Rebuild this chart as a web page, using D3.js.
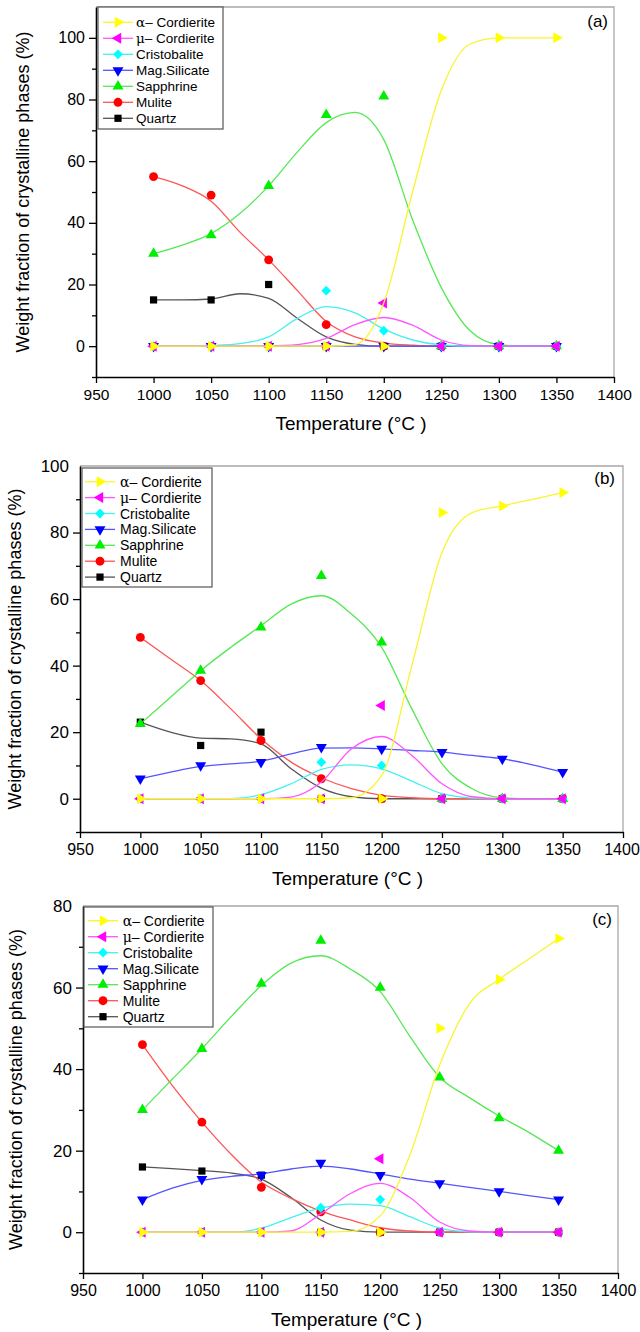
<!DOCTYPE html>
<html>
<head>
<meta charset="utf-8">
<script src="https://cdn.jsdelivr.net/npm/d3@7"></script>
<style>
body { margin: 0; background: #fff; }
svg text { font-family: Arial, "Liberation Sans", sans-serif; fill: #000; }
</style>
</head>
<body>
<div id="chart"></div>
<script>
// measured temperatures and the temperatures the fitted curves were read at
var temps = [1000, 1050, 1100, 1150, 1200, 1250, 1300, 1350];
var fitTemps = [1000, 1025, 1050, 1075, 1100, 1125, 1150, 1175, 1200, 1225, 1250, 1275, 1300, 1325, 1350];
var seriesNames = ["Cordierite", "Cordierite", "Cristobalite", "Mag.Silicate", "Sapphrine", "Mulite", "Quartz"];
var greek = ["\u03b1", "\u03bc", "", "", "", "", ""];
var xTicks = [950, 1000, 1050, 1100, 1150, 1200, 1250, 1300, 1350, 1400];

// order: alpha, mu, cristobalite, mag.silicate, sapphrine, mulite, quartz
var pointsA = [
	[0, 0, 0, 0, 0, 100, 100, 100],
	[0, 0, 0, 0, 14, 0, 0, 0],
	[0, 0, 0, 18, 5, 0, 0, 0],
	[0, 0, 0, 0, 0, 0, 0, 0],
	[30, 36, 52, 75, 81, 0, 0, 0],
	[55, 49, 28, 7, 0, 0, 0, 0],
	[15, 15, 20, 0, 0, 0, 0, 0]
];
var fitsA = [
	[0, 0, 0, 0, 0, 0, 0, 0.5, 14, 50, 83, 98, 100, 100, 100],
	[0, 0, 0, 0, 0.1, 0.5, 2.5, 7, 9.3, 6.8, 2, 0.2, 0, 0, 0],
	[0, 0, 0.2, 0.8, 3, 9, 12.8, 10.8, 5.5, 2, 0.4, 0, 0, 0, 0],
	[0, 0, 0, 0, 0, 0, 0, 0, 0, 0, 0, 0, 0, 0, 0],
	[30, 32.8, 36.5, 43, 52, 63, 72.5, 75.8, 67, 41, 19, 5, 0.5, 0, 0],
	[55, 52, 47, 37, 28, 18, 8, 3, 1, 0.3, 0, 0, 0, 0, 0],
	[15, 15, 15.3, 17, 15.5, 9, 3, 0.6, 0, 0, 0, 0, 0, 0, 0]
];

var pointsB = [
	[0, 0, 0, 0, 0, 86, 88, 92],
	[0, 0, 0, 0, 28, 0, 0, 0],
	[0, 0, 0, 11, 10, 0, 0, 0],
	[6, 10, 11, 15.5, 15, 14, 12, 8],
	[22.5, 38.5, 51.5, 67, 47, 0, 0, 0],
	[48.5, 35.5, 17.5, 6, 0, 0, 0, 0],
	[23, 16, 20, 0, 0, 0, 0, 0]
];
var fitsB = [
	[0, 0, 0, 0, 0, 0, 0, 0.3, 7, 40, 74, 86, 88, 90, 92],
	[0, 0, 0, 0, 0, 0.5, 5, 15, 18.7, 13, 4.5, 0.6, 0, 0, 0],
	[0, 0, 0, 0, 1.2, 4.5, 8.8, 10.2, 9, 5.3, 1.5, 0.2, 0, 0, 0],
	[6, 8, 9.7, 10.5, 11.3, 13.5, 15.2, 15.3, 15, 14.5, 14, 13, 12, 10.2, 8],
	[22.5, 30.5, 38.5, 45.5, 52, 58.5, 61, 55.5, 45.5, 27, 10.5, 3, 0.3, 0, 0],
	[48.5, 42, 35.5, 27, 18, 11, 6.3, 3, 1, 0.3, 0, 0, 0, 0, 0],
	[23, 20, 18.2, 18, 16.5, 9, 3.2, 0.6, 0, 0, 0, 0, 0, 0, 0]
];

var pointsC = [
	[0, 0, 0, 0, 0, 50, 62, 72],
	[0, 0, 0, 0, 18, 0, 0, 0],
	[0, 0, 0, 6, 8, 0, 0, 0],
	[8, 13, 14, 17, 14, 12, 10, 8],
	[30, 45, 61, 71.5, 60, 38, 28, 20],
	[46, 27, 11, 5, 0, 0, 0, 0],
	[16, 15, 14, 0, 0, 0, 0, 0]
];
var fitsC = [
	[0, 0, 0, 0, 0, 0, 0, 0.2, 4, 19, 41, 56, 62, 67, 72],
	[0, 0, 0, 0, 0, 0.3, 4.5, 9.5, 12, 8.5, 2.5, 0.3, 0, 0, 0],
	[0, 0, 0, 0, 1, 3.6, 5.9, 6.9, 6.5, 3.8, 1, 0.1, 0, 0, 0],
	[8, 10.8, 12.7, 13.7, 14.3, 15.5, 16.2, 15.5, 14.3, 13, 12, 11, 10, 9, 8],
	[30, 37.5, 45, 53, 60.5, 66, 67.8, 64.5, 59, 48, 38, 33, 28.5, 24.5, 20],
	[46, 36, 27, 19, 12.3, 8.3, 5.2, 3, 1.1, 0.3, 0, 0, 0, 0, 0],
	[16, 15.6, 15.1, 14.5, 13, 8.5, 3, 0.5, 0, 0, 0, 0, 0, 0, 0]
];

var colors = ['#ffff00', '#ff00ff', '#00ffff', '#0000ff', '#00ee00', '#ff0000', '#000000'];
var lineColors = ['#f8f530', '#ff55ff', '#44f0f0', '#5555ff', '#55e855', '#ff5555', '#555555'];

var width = 640;
var height = 1332;

var svg = d3.select("#chart")
	.append("svg")
	.attr("width", width)
	.attr("height", height);

var symTri = d3.symbol().type(d3.symbolTriangle).size(52);
var symCircle = d3.symbol().type(d3.symbolCircle).size(62);
var symSquare = d3.symbol().type(d3.symbolSquare).size(52);
var symDiamond = d3.symbol().type(d3.symbolSquare).size(48);

// path + rotation for each series marker
var markers = [
	{ p: symTri(), r: 90 },
	{ p: symTri(), r: -90 },
	{ p: symDiamond(), r: 45 },
	{ p: symTri(), r: 180 },
	{ p: symTri(), r: 0 },
	{ p: symCircle(), r: 0 },
	{ p: symSquare(), r: 0 }
];

var panels = [
	{ label: '(a)', pts: pointsA, fits: fitsA, yDom: [-10, 110], yTicks: [0, 20, 40, 60, 80, 100],
		x0: 96, x1: 614, top: 7, bottom: 377, titleX: 23, tick: 16, xtick: 15.5, lab: [608, 27],
		leg: { x: 98, y: 7, w: 125, h: 122, row0: 22.3, dy: 16, mx: 118, tx: 136, fs: 13.5 } },
	{ label: '(b)', pts: pointsB, fits: fitsB, yDom: [-10, 100], yTicks: [0, 20, 40, 60, 80, 100],
		x0: 80, x1: 623, top: 466, bottom: 832, titleX: 15, tick: 17, xtick: 16, lab: [615, 484],
		leg: { x: 82, y: 468, w: 130, h: 119, row0: 481.7, dy: 15.9, mx: 100, tx: 120, fs: 14 } },
	{ label: '(c)', pts: pointsC, fits: fitsC, yDom: [-10, 80], yTicks: [0, 20, 40, 60, 80],
		x0: 83, x1: 618, top: 906, bottom: 1273, titleX: 16, tick: 17, xtick: 16, lab: [612, 925],
		leg: { x: 84, y: 907, w: 129, h: 120, row0: 920.7, dy: 16, mx: 103, tx: 122.7, fs: 14 } }
];

panels.forEach(function(pn) {
	drawPanel(pn);
});

function drawPanel(pn) {
	var x = d3.scaleLinear().domain([950, 1400]).range([pn.x0, pn.x1]);
	var y = d3.scaleLinear().domain(pn.yDom).range([pn.bottom, pn.top]);

	var g = svg.append('g');

	// frame (top/right in grey)
	g.append('path')
		.attr('d', 'M' + x(950) + ',' + y(pn.yDom[1]) + 'H' + x(1400) + 'V' + y(pn.yDom[0]))
		.attr('fill', 'none')
		.attr('stroke', '#a8a8a8')
		.attr('stroke-width', 1.3);

	// y axis
	var minor = d3.range(pn.yDom[0], pn.yDom[1], 20).filter(function(v) { return pn.yTicks.indexOf(v) < 0; });
	var yAx = g.append('g')
		.attr('transform', 'translate(' + x(950) + ',0)')
		.call(d3.axisLeft(y).tickValues(pn.yTicks).tickSize(7).tickPadding(4).tickSizeOuter(0));
	yAx.selectAll('.tick')
		.filter(function(d) { return d === pn.yDom[1]; })
		.select('line').remove();
	g.append('g')
		.attr('transform', 'translate(' + x(950) + ',0)')
		.call(d3.axisLeft(y).tickValues(minor).tickSize(4).tickFormat('').tickSizeOuter(0))
		.select('.domain').remove();

	// x axis
	var xAx = g.append('g')
		.attr('transform', 'translate(0,' + pn.bottom + ')')
		.call(d3.axisBottom(x).tickValues(xTicks).tickSize(6).tickPadding(6).tickSizeOuter(0).tickFormat(d3.format('d')));
	xAx.selectAll('.tick text').attr('font-size', pn.xtick)
		.filter(function(d) { return d === 1400; })
		.attr('dx', pn.x1 > 620 ? -1.5 : 0);

	[yAx, xAx].forEach(function(a) {
		a.select('.domain').attr('stroke', '#000').attr('stroke-width', 1.6);
		a.selectAll('.tick text').attr('font-family', 'Arial, "Liberation Sans", sans-serif');
	});
	yAx.selectAll('.tick text').attr('font-size', pn.tick);
	g.selectAll('.tick line').attr('stroke', '#000').attr('stroke-width', 1.3);

	// axis titles
	g.append('text')
		.attr('x', (pn.x0 + pn.x1) / 2 - 4)
		.attr('y', pn.bottom + 53)
		.attr('text-anchor', 'middle')
		.attr('font-size', 19)
		.text('Temperature (\u00b0C )');

	g.append('text')
		.attr('transform', 'translate(' + (pn.titleX + 6) + ',' + ((pn.top + pn.bottom) / 2) + ') rotate(-90)')
		.attr('text-anchor', 'middle')
		.attr('font-size', 18)
		.text('Weight fraction of crystalline phases (%)');

	g.append('text')
		.attr('x', pn.lab[0])
		.attr('y', pn.lab[1])
		.attr('text-anchor', 'end')
		.attr('font-size', 17)
		.text(pn.label);

	var line = d3.line()
		.x(function(d) { return x(d[0]); })
		.y(function(d) { return y(d[1]); })
		.curve(d3.curveMonotoneX);

	// draw in reverse legend order so alpha ends up on top
	for (var i = 6; i >= 0; i--) {
		var fitData = fitTemps.map(function(t, k) { return [t, pn.fits[i][k]]; });
		g.append('path')
			.attr('d', line(fitData))
			.attr('fill', 'none')
			.attr('stroke', lineColors[i])
			.attr('stroke-width', 1.3);

		g.append('g').selectAll('path')
			.data(temps.map(function(t, k) { return [t, pn.pts[i][k]]; }))
			.enter()
			.append('path')
			.attr('d', markers[i].p)
			.attr('transform', function(d) {
				return 'translate(' + x(d[0]) + ',' + y(d[1]) + ') rotate(' + markers[i].r + ')';
			})
			.attr('fill', colors[i]);
	}

	// legend
	var L = pn.leg;
	var lg = g.append('g');
	lg.append('rect')
		.attr('x', L.x).attr('y', L.y)
		.attr('width', L.w).attr('height', L.h)
		.attr('fill', '#fff')
		.attr('stroke', '#555')
		.attr('stroke-width', 1.2);

	seriesNames.forEach(function(name, i) {
		var ry = L.row0 + i * L.dy;
		lg.append('line')
			.attr('x1', L.mx - 15).attr('x2', L.mx + 15)
			.attr('y1', ry).attr('y2', ry)
			.attr('stroke', lineColors[i])
			.attr('stroke-width', 1.3);
		lg.append('path')
			.attr('d', markers[i].p)
			.attr('transform', 'translate(' + L.mx + ',' + ry + ') rotate(' + markers[i].r + ')')
			.attr('fill', colors[i]);
		var t = lg.append('text')
			.attr('x', L.tx)
			.attr('y', ry + L.fs * 0.36)
			.attr('font-size', L.fs);
		if (greek[i]) {
			t.append('tspan').attr('font-family', '"DejaVu Serif", "Liberation Serif", serif').text(greek[i]);
			t.append('tspan').text('\u2013 ' + name);
		} else {
			t.text(name);
		}
	});
}
</script>
</body>
</html>
